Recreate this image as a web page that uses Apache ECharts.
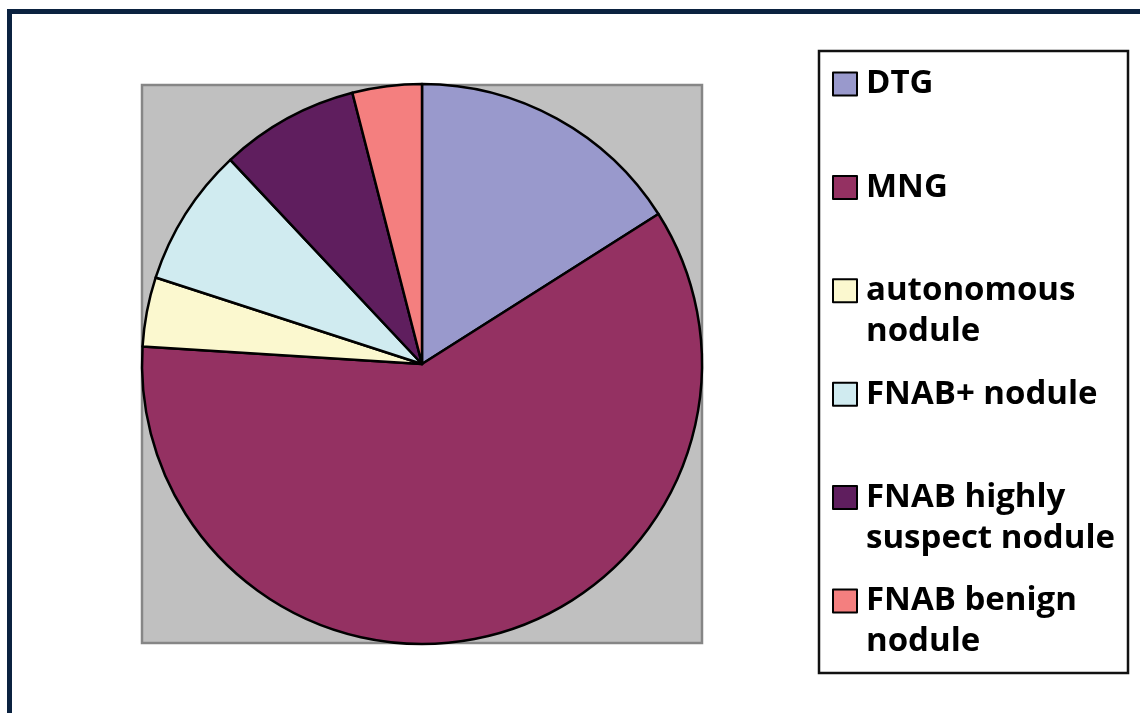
<!DOCTYPE html>
<html>
<head>
<meta charset="utf-8">
<script src="https://cdn.jsdelivr.net/npm/echarts@6/dist/echarts.min.js"></script>
<style>
html,body{margin:0;padding:0;background:#fff;}
#chart{width:1140px;height:713px;}
</style>
</head>
<body>
<div id="chart"></div>
<script>
// Categories and values (percent of cases)
const categories = ['DTG', 'MNG', 'autonomous nodule', 'FNAB+ nodule', 'FNAB highly suspect nodule', 'FNAB benign nodule'];
const values = [16, 60, 4, 8, 8, 4];
const colors = ['#9999cc', '#943162', '#fbf8cf', '#d0ebf0', '#5f1e5e', '#f47f7f'];
// Wrapped legend labels
const legendLines = [['DTG'], ['MNG'], ['autonomous', 'nodule'], ['FNAB+ nodule'], ['FNAB highly', 'suspect nodule'], ['FNAB benign', 'nodule']];

const chart = echarts.init(document.getElementById('chart'), null, {renderer: 'canvas'});

const cx = 422, cy = 364, R = 280;
const LH = 41;
const PADT = 14;
const itemH = 3 * LH + PADT;

const option = {
  backgroundColor: '#ffffff',
  animation: false,
  color: colors,
  graphic: [
    {type: 'rect', shape: {x: 7, y: 9, width: 1140, height: 5}, style: {fill: '#0b2240'}, z: 0},
    {type: 'rect', shape: {x: 7, y: 9, width: 5, height: 720}, style: {fill: '#0b2240'}, z: 0},
    {type: 'rect', shape: {x: 142, y: 85, width: 560, height: 558}, style: {fill: '#c0c0c0', stroke: '#868686', lineWidth: 2.5}, z: 0, silent: true},
    {type: 'rect', shape: {x: 819, y: 51, width: 309, height: 622}, style: {fill: '#ffffff', stroke: '#111111', lineWidth: 2.5}, z: 0, silent: true}
  ],
  legend: {
    orient: 'vertical',
    left: 832,
    top: 84 - itemH / 2,
    padding: 0,
    itemWidth: 24,
    itemHeight: 23,
    itemGap: 103.4 - itemH,
    icon: 'rect',
    selectedMode: false,
    data: categories,
    itemStyle: {borderColor: '#000000', borderWidth: 2},
    formatter: function (name) {
      const l = legendLines[categories.indexOf(name)];
      return '\n' + l[0] + '\n' + (l[1] || ' ');
    },
    textStyle: {
      fontFamily: 'Open Sans',
      fontWeight: 'bold',
      fontSize: 33,
      lineHeight: LH,
      color: '#000000',
      padding: [PADT, 0, 0, 4]
    }
  },
  series: [{
    type: 'pie',
    center: [cx, cy],
    radius: [0, R],
    startAngle: 90,
    clockwise: true,
    label: {show: false},
    labelLine: {show: false},
    emphasis: {disabled: true},
    itemStyle: {borderColor: '#000000', borderWidth: 2.5},
    data: categories.map((c, i) => ({name: c, value: values[i]}))
  }]
};
chart.setOption(option);
</script>
</body>
</html>
